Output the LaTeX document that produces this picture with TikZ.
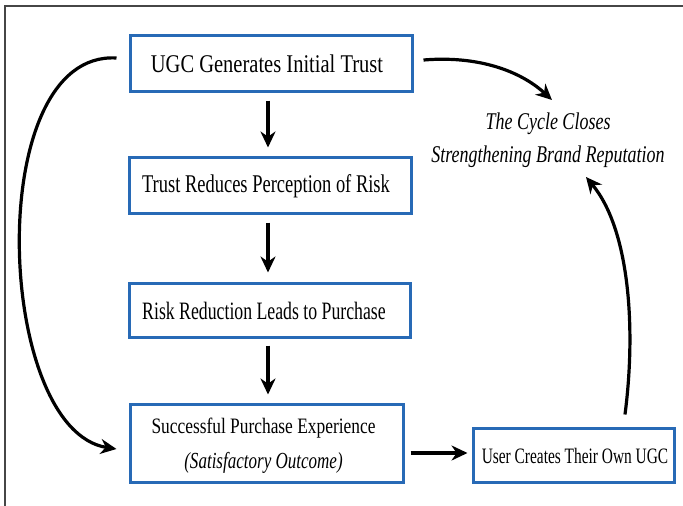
\documentclass[tikz,border=0pt]{standalone}
\usepackage{fontspec}
\setmainfont{Liberation Serif}
\usepackage{graphicx}
\usetikzlibrary{arrows.meta}
\definecolor{boxblue}{RGB}{40,106,182}
\definecolor{framegray}{RGB}{70,70,70}
\newcommand{\sx}[2]{\scalebox{#1}[1]{#2}}
\begin{document}
\begin{tikzpicture}[x=1pt,y=-1pt,
  box/.style={draw=boxblue,line width=3pt,fill=white,inner sep=0pt},
  lbl/.style={inner sep=0pt,text=black,align=center},
  arr/.style={line width=3.2pt,-{Stealth[length=16pt,width=15pt]}},
  ]
\useasboundingbox (0,0) rectangle (683,506);
\fill[white] (0,0) rectangle (683,506);
\coordinate (fa) at (5,506);
\coordinate (fb) at (5,6);
\coordinate (fc) at (683,6);
\draw[framegray,line width=1.6pt] (fa) -- (fb) -- (fc);

\node[box,minimum width=282pt,minimum height=56pt] (b1) at (271,63) {};
\node[box,minimum width=282pt,minimum height=56pt] (b2) at (270,185) {};
\node[box,minimum width=281pt,minimum height=54pt] (b3) at (269.5,310) {};
\node[box,minimum width=273pt,minimum height=78pt] (b4) at (266.5,443) {};
\node[box,minimum width=201pt,minimum height=54pt] (b5) at (573.5,455) {};

\node[lbl,font=\fontsize{25.5}{26}\selectfont] (t1) at (267,64) {\sx{0.804}{UGC Generates Initial Trust}};
\node[lbl,font=\fontsize{25.5}{26}\selectfont] (t2) at (266,186) {\sx{0.725}{Trust Reduces Perception of Risk}};
\node[lbl,font=\fontsize{25}{26}\selectfont] (t3) at (264,311) {\sx{0.71}{Risk Reduction Leads to Purchase}};
\node[lbl,font=\fontsize{22}{35}\selectfont] (t4) at (263.5,446) {\sx{0.79}{Successful Purchase Experience}\\{\fontsize{23}{35}\selectfont\itshape\sx{0.74}{(Satisfactory Outcome)}}};
\node[lbl,font=\fontsize{22}{24}\selectfont] (t5) at (575,456) {\sx{0.70}{User Creates Their Own UGC}};
\node[lbl,font=\fontsize{24}{33}\selectfont\itshape] (cyc) at (548,140.5) {\sx{0.75}{The Cycle Closes}\\\sx{0.75}{Strengthening Brand Reputation}};

\coordinate (ct) at (552,100);
\coordinate (cb) at (586,177);

\draw[arr,shorten <=8pt,shorten >=8pt] ([xshift=-3pt]b1.south) -- ([xshift=-3pt]b1.south |- b2.north);
\draw[arr,shorten <=8pt,shorten >=9pt] ([xshift=-2pt]b2.south) -- ([xshift=-2pt]b2.south |- b3.north);
\draw[arr,shorten <=7pt,shorten >=8pt] ([xshift=-1.5pt]b3.south) -- ([xshift=-1.5pt]b3.south |- b4.north);
\draw[arr,shorten <=6pt,shorten >=4pt] ([yshift=-10pt]b4.east) -- ([yshift=-10pt]b4.east -| b5.west);

\draw[arr] ([xshift=-12pt,yshift=5pt]b1.west) .. controls (-18,50) and (-5,430) .. ([xshift=-12pt,yshift=-6pt]b4.west);
\draw[arr] ([xshift=10pt,yshift=3pt]b1.east) .. controls (485,55) and (525,75) .. (ct);
\draw[arr] ([xshift=51.5pt,yshift=12pt]b5.north) .. controls (636,330) and (630,230) .. (cb);
\end{tikzpicture}
\end{document}
